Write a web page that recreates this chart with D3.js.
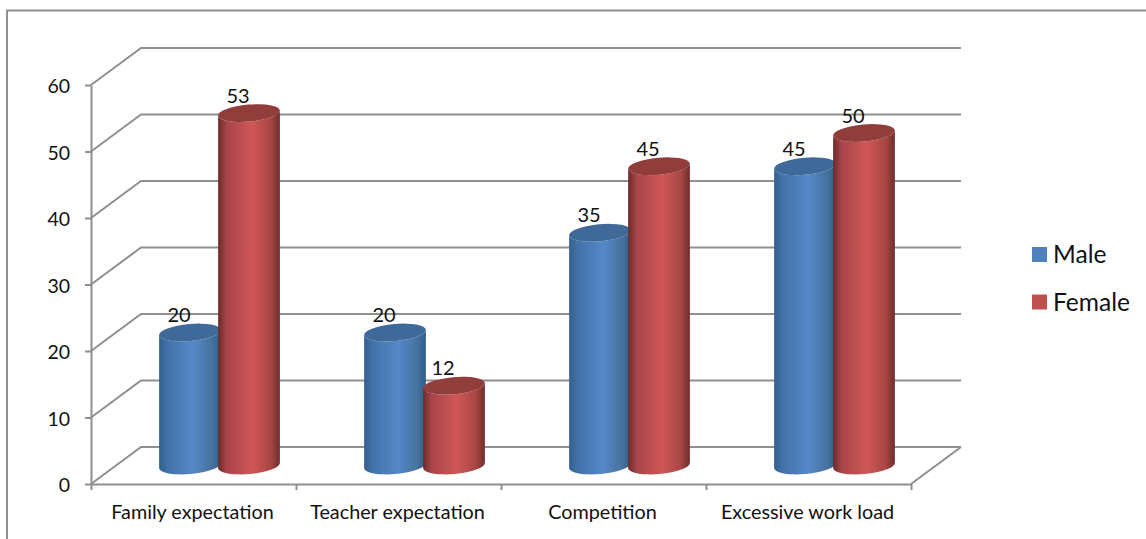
<!DOCTYPE html>
<html>
<head>
<meta charset="utf-8">
<title>Male and female stress factors</title>
<script src="https://cdn.jsdelivr.net/npm/d3@7"></script>
<style>
  html, body { margin: 0; padding: 0; background: #fff; }
  svg { display: block; }
  text { font-family: Lato, "Open Sans", sans-serif; fill: #111; }
</style>
</head>
<body>
<div id="chart"></div>
<script>
// --- Daten ---
const categories = ["Family expectation", "Teacher expectation", "Competition", "Excessive work load"];
const seriesNames = ["Male", "Female"];
const maleValues = [20, 20, 35, 45];
const femaleValues = [53, 12, 45, 50];
const yTicks = [0, 10, 20, 30, 40, 50, 60];

// --- Layout ---
const width = 1146;
const height = 539;
const plot = { left: 91, right: 911, top: 85, bottom: 484 };
const depth = { dx: 50, dy: 37 };   // Versatz der Rückwand
const gridColor = "#8f8f8f";

const svg = d3.select("#chart").append("svg")
    .attr("width", width)
    .attr("height", height);

const defs = svg.append("defs");

// horizontale Verläufe für die Zylinder (außen dunkel, Mitte hell)
function addGradient(id, stops) {
    const g = defs.append("linearGradient").attr("id", id)
        .attr("x1", 0).attr("x2", 1).attr("y1", 0).attr("y2", 0);
    stops.forEach(s => g.append("stop").attr("offset", s[0]).attr("stop-color", s[1]));
}
addGradient("grad-male", [[0, "#33608f"], [0.14, "#4272a9"], [0.55, "#5588c8"], [0.85, "#46739f"], [1, "#325c88"]]);
addGradient("grad-female", [[0, "#6b2b2a"], [0.14, "#a8454a"], [0.55, "#cf5755"], [0.85, "#a84643"], [1, "#6d2e2c"]]);

const seriesStyle = [
    { values: maleValues, fill: "url(#grad-male)", top: "#3f6998", swatch: "#4f81bd" },
    { values: femaleValues, fill: "url(#grad-female)", top: "#913d3c", swatch: "#c0504d" }
];

// --- Skalen ---
const x = d3.scaleBand().domain(categories).range([plot.left, plot.right]);
const xEdges = d3.scaleLinear().domain([0, categories.length]).range([plot.left, plot.right]);
const y = d3.scaleLinear().domain([0, 60]).range([plot.bottom, plot.top]);

// --- Rahmen (nur oben und links sichtbar) ---
svg.append("path")
    .attr("d", `M7,${height} V10.5 H${width}`)
    .attr("fill", "none")
    .attr("stroke", gridColor)
    .attr("stroke-width", 2);

// --- Gitterlinien auf Seitenwand und Rückwand ---
svg.append("g").selectAll("path")
    .data(yTicks)
    .enter()
    .append("path")
    .attr("d", d => `M${plot.left},${y(d)} l${depth.dx},${-depth.dy} H${plot.right + depth.dx}`)
    .attr("fill", "none")
    .attr("stroke", gridColor)
    .attr("stroke-width", 2);

// Boden: rechte Kante
svg.append("path")
    .attr("d", `M${plot.right},${y(0)} l${depth.dx},${-depth.dy}`)
    .attr("stroke", gridColor)
    .attr("stroke-width", 2);

// --- Achsen ---
const yAxis = svg.append("g")
    .attr("transform", `translate(${plot.left},0)`)
    .call(d3.axisLeft(y).tickValues(yTicks).tickSizeInner(6).tickSizeOuter(0).tickPadding(15));

const xAxis = svg.append("g")
    .attr("transform", `translate(0,${plot.bottom})`)
    .call(d3.axisBottom(xEdges).ticks(categories.length).tickFormat("").tickSizeInner(6).tickSizeOuter(0));

[yAxis, xAxis].forEach(a => {
    a.selectAll("path.domain").attr("stroke", gridColor).attr("stroke-width", 2);
    a.selectAll(".tick line").attr("stroke", gridColor).attr("stroke-width", 2);
});
yAxis.selectAll("text")
    .attr("dy", "0.4em")
    .style("font-size", "19.5px")
    .style("font-family", "Lato")
    .attr("fill", "#111");

// Kategorien
svg.append("g").selectAll("text")
    .data(categories)
    .enter()
    .append("text")
    .text(d => d)
    .attr("x", d => x(d) + x.bandwidth() / 2 - 1)
    .attr("y", 512)
    .attr("dy", "0.35em")
    .style("text-anchor", "middle")
    .style("font-size", "19.8px");

// --- Zylinder ---
const cyl = { start: 43, step: 59, rx: 31, ry: 8.5, tilt: 5 };
const tiltRad = cyl.tilt * Math.PI / 180;
const ex = cyl.rx * Math.cos(tiltRad);
const ey = cyl.rx * Math.sin(tiltRad);

// Ein Zylinder steht in der Mitte der Tiefe, daher der halbe Versatz
function drawCylinder(cx, baseY, topY, style) {
    const g = svg.append("g");
    g.append("path")
        .attr("d", `M${cx - ex},${topY + ey} L${cx - ex},${baseY + ey}`
            + ` A${cyl.rx},${cyl.ry} ${-cyl.tilt} 0 0 ${cx + ex},${baseY - ey}`
            + ` L${cx + ex},${topY - ey}`
            + ` A${cyl.rx},${cyl.ry} ${-cyl.tilt} 0 1 ${cx - ex},${topY + ey} Z`)
        .attr("fill", style.fill);
    g.append("ellipse")
        .attr("rx", cyl.rx)
        .attr("ry", cyl.ry)
        .attr("transform", `translate(${cx},${topY}) rotate(${-cyl.tilt})`)
        .attr("fill", style.top);
}

categories.forEach((cat, i) => {
    seriesStyle.forEach((s, j) => {
        const left = x(cat) + depth.dx / 2 + cyl.start + j * cyl.step;
        const cx = left + cyl.rx;
        const value = s.values[i];
        drawCylinder(cx, y(0) - depth.dy / 2, y(value) - depth.dy / 2, s);

        // Wert über dem Zylinder
        svg.append("text")
            .text(value)
            .attr("x", cx - 11)
            .attr("y", y(value) - depth.dy / 2 - 17.5)
            .attr("dy", "0.35em")
            .style("text-anchor", "middle")
            .style("font-size", "20px");
    });
});

// --- Legende ---
const legend = svg.append("g").selectAll("g")
    .data(seriesNames)
    .enter()
    .append("g")
    .attr("transform", (d, i) => `translate(1032,${254.5 + i * 47.5})`);

legend.append("rect")
    .attr("y", -7.5)
    .attr("width", 15)
    .attr("height", 15)
    .attr("fill", (d, i) => seriesStyle[i].swatch);

legend.append("text")
    .text(d => d)
    .attr("x", 21)
    .attr("dy", "0.35em")
    .style("font-size", "24.6px");
</script>
</body>
</html>
